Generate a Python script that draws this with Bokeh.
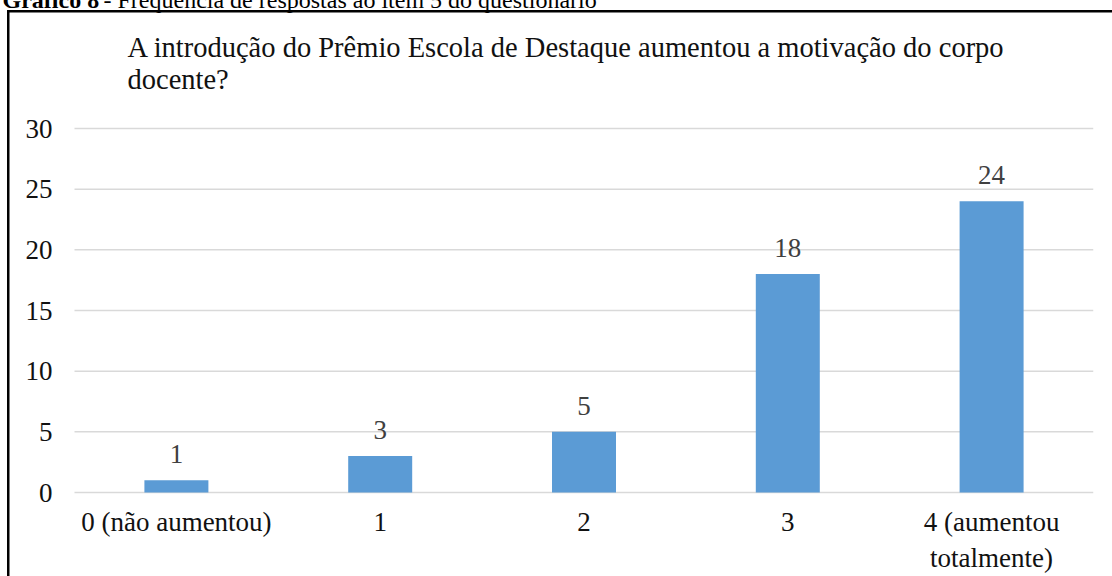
from bokeh.plotting import figure
from bokeh.models import (ColumnDataSource, Range1d, FixedTicker, LabelSet, Label)
from bokeh.embed import file_html
from bokeh.resources import INLINE

# ---- data ----
categories = ["0 (não aumentou)", "1", "2", "3", "4 (aumentou\ntotalmente)"]
values = [1, 3, 5, 18, 24]
y_ticks = [0, 5, 10, 15, 20, 25, 30]
title_lines = ["A introdução do Prêmio Escola de Destaque aumentou a motivação do corpo",
               "docente?"]
caption_bold = "Gráfico 8"
caption_rest = " - Frequência de respostas ao item 5 do questionário"

FONT = "Liberation Serif"
OFF = 8                      # canvas sits 8px up/left of the page origin
LBL_DY = -10                 # correction for canvas-unit label placement
W, H = 1120, 584
n = len(categories)
x_pos = list(range(n))

# pixel geometry (canvas coordinates)
band = (1093 - 74) / n
cx0 = 74 + band / 2 + OFF                      # canvas column of first category centre
frame_left, frame_right = 0, 1093 + OFF
frame_top, frame_bottom = 0, 494 + OFF
y0_px, y30_px = 492 + OFF, 128 + OFF
px_per_unit = (y0_px - y30_px) / 30.0
x_start = (frame_left - cx0) / band
x_end = (frame_right - cx0) / band
y_start = -(frame_bottom - y0_px) / px_per_unit
y_end = 30 + (y30_px - frame_top) / px_per_unit

source = ColumnDataSource(dict(x=x_pos, val=values, lab=[str(v) for v in values]))
grid_src = ColumnDataSource(dict(y=y_ticks, x0=[-0.5] * len(y_ticks),
                                 x1=[n - 0.5] * len(y_ticks)))

p = figure(width=W, height=H, output_backend="svg", toolbar_location=None,
           x_range=Range1d(x_start, x_end), y_range=Range1d(y_start, y_end),
           min_border_left=frame_left, min_border_right=W - frame_right,
           min_border_top=frame_top, min_border_bottom=H - frame_bottom)
# transparent canvas over a white page area that carries the chart's outer frame lines
p.styles = {
    "margin": "-8px",
    "background-color": "white",
    "background-image": "linear-gradient(#000, #000), linear-gradient(#000, #000)",
    "background-size": "2.5px 3000px, 3000px 2.5px",
    "background-position": "15px 18px, 15px 18px",
    "background-repeat": "no-repeat",
}
p.outline_line_color = None
p.background_fill_color = None
p.border_fill_color = None
p.grid.visible = False

# horizontal gridlines across the category bands
p.segment(x0="x0", x1="x1", y0="y", y1="y", source=grid_src,
          line_color="#D9D9D9", line_width=1.5)

p.vbar(x="x", top="val", width=0.314, source=source,
       fill_color="#5B9BD5", line_color=None)

p.add_layout(LabelSet(x="x", y="val", text="lab", source=source,
                      y_offset=17, text_align="center", text_baseline="alphabetic",
                      text_font=FONT, text_font_size="27px", text_color="#404040"))

# axes
p.xaxis.ticker = FixedTicker(ticks=x_pos)
p.xaxis.major_label_overrides = {i: c for i, c in zip(x_pos, categories)}
p.yaxis.ticker = FixedTicker(ticks=y_ticks)
for ax in (p.xaxis, p.yaxis):
    ax.axis_line_color = None
    ax.major_tick_line_color = None
    ax.minor_tick_line_color = None
    ax.major_tick_out = 0
    ax.major_tick_in = 0
    ax.major_label_text_font = FONT
    ax.major_label_text_font_size = "27px"
    ax.major_label_text_color = "#111111"
p.yaxis.major_label_standoff = -(52 + OFF)
p.xaxis.major_label_standoff = 12

# chart title
for i, line in enumerate(title_lines):
    p.add_layout(Label(x=127 + OFF, y=57 + 32 * i + OFF + LBL_DY,
                       x_units="canvas", y_units="canvas",
                       text=line, text_font=FONT, text_font_size="28.5px",
                       text_color="#111111", text_baseline="alphabetic",
                       text_align="left"))

# document caption above the chart (cut by the page top)
p.add_layout(Label(x=2 + OFF, y=9 + OFF + LBL_DY, x_units="canvas", y_units="canvas",
                   text=caption_bold, text_font=FONT, text_font_size="24px",
                   text_font_style="bold", text_baseline="alphabetic", text_color="black"))
p.add_layout(Label(x=2 + OFF + 101, y=9 + OFF + LBL_DY, x_units="canvas", y_units="canvas",
                   text=caption_rest, text_font=FONT, text_font_size="24px",
                   text_baseline="alphabetic", text_color="black"))

open("out.html", "w").write(file_html(p, INLINE))
